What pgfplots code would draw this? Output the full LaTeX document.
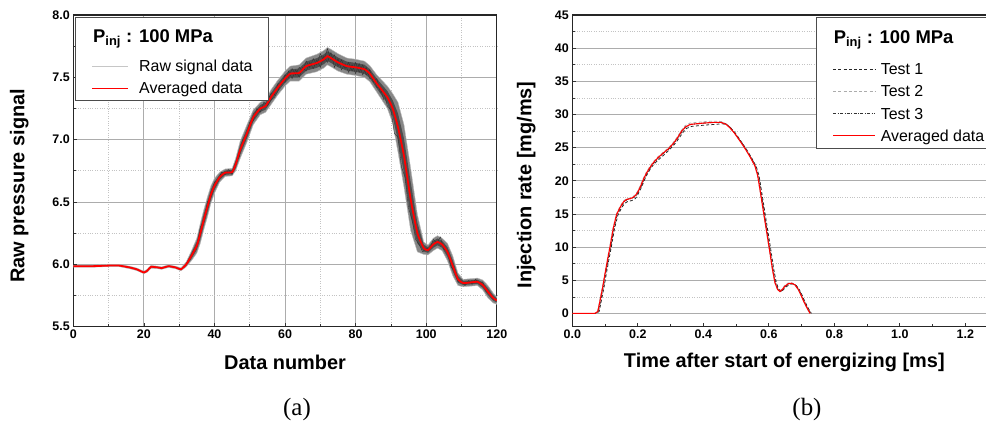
\documentclass[border=0pt]{standalone}
\usepackage{fontspec}
\setmainfont{Liberation Sans}
\newfontfamily\timesf{Liberation Serif}
\usepackage{pgfplots}
\pgfplotsset{compat=1.18}

\definecolor{majgrid}{RGB}{172,172,172}
\definecolor{mingrid}{RGB}{195,195,195}
\definecolor{rawouter}{RGB}{135,135,135}
\definecolor{rawinner}{RGB}{78,78,78}
\definecolor{rawline}{RGB}{50,50,50}
\definecolor{avgred}{RGB}{255,0,0}

\newcommand{\tickfont}{\fontsize{12.5}{13}\selectfont\bfseries}
\newcommand{\labfont}{\fontsize{20}{22}\selectfont\bfseries}
\newcommand{\legfont}{\fontsize{16}{18}\selectfont}
\newcommand{\titfont}{\fontsize{18.5}{20}\selectfont\bfseries}

\tikzset{
  testone/.style={black!85, line width=0.8pt, dash pattern=on 3pt off 2.2pt},
  testtwo/.style={gray!65, line width=0.8pt, dash pattern=on 3pt off 2.2pt},
  testthree/.style={black!80, line width=0.8pt, dash pattern=on 3pt off 1.5pt on 0.8pt off 1.5pt},
}

\begin{document}
\begin{tikzpicture}
\path[use as bounding box] (0bp,0bp) rectangle (986bp,442bp);

% ---------------- (a) ----------------
\begin{axis}[
  scale only axis,
  at={(73.3bp,115.3bp)}, anchor=south west,
  width=423.5bp, height=311.7bp,
  axis line style={black!85, line width=1.1pt},
  tick pos=left, tick align=inside,
  major tick length=4bp, minor tick length=2.5bp,
  every tick/.style={black!80, line width=0.7pt},
  major grid style={majgrid, line width=0.9pt},
  minor grid style={mingrid, dotted, line width=0.7pt},
  /pgf/number format/assume math mode=true,
  xmin=0, xmax=120, ymin=5.5, ymax=8,
  xtick={0,20,...,120}, ytick={5.5,6,6.5,7,7.5,8},
  minor x tick num=1, minor y tick num=1,
  grid=both,
  xticklabel style={font=\tickfont},
  yticklabel style={font=\tickfont},
  yticklabels={5.5,6.0,6.5,7.0,7.5,8.0},
  xlabel={Data number}, ylabel={Raw pressure signal},
  xlabel style={font=\labfont, at={(rel axis cs:0.5,0)}, anchor=center, yshift=-36bp},
  ylabel style={font=\labfont, at={(rel axis cs:0,0.452)}, anchor=center, yshift=54bp},
  legend cell align=left,
  legend image code/.code={\draw[#1] (0bp,0bp) -- (36bp,0bp);},
  legend style={draw=black!70, line width=0.8pt, fill=white,
     font=\legfont, inner xsep=16bp, inner ysep=1bp,
     nodes={inner sep=0pt},
     row sep=0pt, column sep=10bp,
     at={(0,1)}, anchor=north west, xshift=1.7bp, yshift=-2bp},
]
% outer envelope of the raw signals
\addplot[fill=rawouter, draw=gray!50, line width=0.4pt, forget plot] coordinates {
(0,5.993) (5,5.993) (10,5.998) (13,5.998) (16,5.985) (18,5.97) (20,5.945) (21,5.962) (22,5.992) (24,5.985) (25,5.98) (27,5.995) (29,5.985) (30.5,5.972)
(32,6.02) (33.5,6.11) (35,6.21) (36,6.33) (37,6.44) (38,6.54) (39,6.63) (40,6.69) (41.5,6.74) (43,6.765) (45,6.77) (46,6.85) (47.3,6.99) (49.2,7.12)
(51,7.24) (53,7.30) (54.5,7.32) (56,7.40) (58,7.48) (60,7.55) (61.5,7.59) (64,7.60) (66,7.655) (69,7.685) (71,7.715) (72,7.74) (73,7.725) (75,7.69)
(77.5,7.655) (80,7.645) (82.5,7.63) (84,7.595) (86,7.52) (89,7.43) (90.5,7.37) (92,7.30) (93.7,7.12) (95.6,6.77) (97.5,6.40) (99.3,6.18) (100.5,6.155)
(102,6.21) (103.2,6.23) (104.5,6.21) (106,6.17) (107.5,6.07) (109,5.93) (110.5,5.88) (112.5,5.885) (114.5,5.89) (116,5.875) (117.5,5.83) (119,5.77) (120,5.74)
(120,5.68) (119,5.69) (117.5,5.73) (116,5.795) (114.5,5.83) (112.5,5.825) (110.5,5.82) (109,5.83) (107.5,5.91) (106,6.03) (104.5,6.11) (103.2,6.13)
(102,6.11) (100.5,6.075) (99.3,6.08) (97.5,6.10) (95.6,6.27) (93.7,6.62) (92,6.90) (90.5,7.13) (89,7.25) (86,7.38) (84,7.465) (82.5,7.50) (80,7.515)
(77.5,7.525) (75,7.55) (73,7.585) (72,7.60) (71,7.575) (69,7.545) (66,7.525) (64,7.47) (61.5,7.47) (60,7.43) (58,7.36) (56,7.28) (54.5,7.22) (53,7.20)
(51,7.12) (49.2,6.98) (47.3,6.85) (46,6.75) (45,6.71) (43,6.705) (41.5,6.66) (40,6.57) (39,6.49) (38,6.38) (37,6.28) (36,6.17) (35,6.09) (33.5,6.03)
(32,5.98) (30.5,5.948) (29,5.965) (27,5.975) (25,5.96) (24,5.965) (22,5.968) (21,5.938) (20,5.925) (18,5.95) (16,5.965) (13,5.982) (10,5.982) (5,5.977) (0,5.977)
} -- cycle;
% dense core of the raw signals
\addplot[fill=rawinner, draw=none, forget plot] coordinates {
(32,6.011) (33.5,6.092) (35,6.183) (36,6.294) (37,6.404) (38,6.504) (39,6.599) (40,6.663) (41.5,6.722) (43,6.752) (45,6.757) (46,6.828) (47.3,6.959)
(49.2,7.089) (51,7.213) (53,7.278) (54.5,7.298) (56,7.373) (58,7.453) (60,7.523) (61.5,7.563) (64,7.571) (66,7.626) (69,7.654) (71,7.684) (72,7.709)
(73,7.694) (75,7.659) (77.5,7.626) (80,7.616) (82.5,7.601) (84,7.566) (86,7.489) (89,7.39) (90.5,7.316) (92,7.21) (93.7,7.008) (95.6,6.658) (97.5,6.333)
(99.3,6.158) (100.5,6.137) (102,6.188) (103.2,6.208) (104.5,6.188) (106,6.139) (107.5,6.034) (109,5.908) (110.5,5.867) (112.5,5.872) (114.5,5.877)
(116,5.857) (117.5,5.808) (119,5.752) (120,5.727)
(120,5.694) (119,5.708) (117.5,5.753) (116,5.813) (114.5,5.844) (112.5,5.839) (110.5,5.834) (109,5.853) (107.5,5.946) (106,6.062) (104.5,6.133)
(103.2,6.153) (102,6.133) (100.5,6.093) (99.3,6.103) (97.5,6.168) (95.6,6.383) (93.7,6.733) (92,6.99) (90.5,7.184) (89,7.29) (86,7.411) (84,7.494)
(82.5,7.529) (80,7.544) (77.5,7.554) (75,7.581) (73,7.616) (72,7.631) (71,7.606) (69,7.576) (66,7.554) (64,7.499) (61.5,7.497) (60,7.457) (58,7.387)
(56,7.307) (54.5,7.242) (53,7.222) (51,7.147) (49.2,7.011) (47.3,6.881) (46,6.772) (45,6.723) (43,6.718) (41.5,6.678) (40,6.597) (39,6.521) (38,6.416)
(37,6.316) (36,6.206) (35,6.117) (33.5,6.048) (32,5.989)
} -- cycle;
% individual raw traces (texture)
\addplot[rawline, line width=0.4pt, forget plot] coordinates {
(55,7.31) (56,7.37) (57,7.36) (58,7.45) (59,7.44) (60,7.52) (61,7.50) (62,7.57) (63,7.52) (64,7.58) (65,7.55) (66,7.63) (67,7.58) (68,7.65) (69,7.60)
(70,7.69) (71,7.63) (72,7.73) (73,7.64) (74,7.68) (75,7.59) (76,7.64) (77,7.57) (78,7.62) (79,7.55) (80,7.62) (81,7.54) (82,7.60) (83,7.52) (84,7.56)
(85,7.46) (86,7.49) (87,7.38) (88,7.40)};
\addplot[rawline, line width=0.4pt, forget plot] coordinates {
(55,7.27) (56,7.32) (57,7.34) (58,7.39) (59,7.47) (60,7.46) (61,7.55) (62,7.49) (63,7.56) (64,7.50) (65,7.58) (66,7.55) (67,7.62) (68,7.57) (69,7.64)
(70,7.58) (71,7.67) (72,7.62) (73,7.70) (74,7.58) (75,7.65) (76,7.56) (77,7.61) (78,7.54) (79,7.60) (80,7.53) (81,7.61) (82,7.52) (83,7.58) (84,7.49)
(85,7.50) (86,7.42) (87,7.41) (88,7.32)};
\addplot[rawline, line width=0.4pt, forget plot] coordinates {
(88,7.38) (89,7.27) (90,7.24) (91,7.05) (92,7.02) (93,6.78) (94,6.70) (95,6.45) (96,6.36) (97,6.20) (98,6.16) (99,6.10) (100,6.13) (101,6.12)
(102,6.20) (103,6.17) (104,6.22) (105,6.12) (106,6.11) (107,5.98) (108,5.95) (109,5.86) (110,5.86) (111,5.83) (112,5.87) (113,5.84) (114,5.88)
(115,5.85) (116,5.86) (117,5.78) (118,5.77) (119,5.72) (120,5.72)};
\addplot[rawline, line width=0.4pt, forget plot] coordinates {
(33,6.03) (34,6.11) (35,6.14) (36,6.30) (37,6.34) (38,6.50) (39,6.54) (40,6.66) (41,6.67) (42,6.74) (43,6.72) (44,6.76) (45,6.72) (46,6.82)
(47,6.86) (48,7.00) (49,7.02) (50,7.14) (51,7.15) (52,7.25) (53,7.22) (54,7.30) (55,7.28)};
% averaged
\addplot[avgred, line width=1.8pt, smooth, tension=0.3, forget plot] coordinates {
(0,5.985) (5,5.985) (10,5.99) (13,5.99) (16,5.975) (18,5.96) (20,5.935) (21,5.95) (22,5.98) (24,5.975) (25,5.97) (27,5.985) (29,5.975) (30.5,5.96)
(32,6.0) (33.5,6.07) (35,6.15) (36,6.25) (37,6.36) (38,6.46) (39,6.56) (40,6.63) (41.5,6.70) (43,6.735) (45,6.74) (46,6.8) (47.3,6.92) (49.2,7.05)
(51,7.18) (53,7.25) (54.5,7.27) (56,7.34) (58,7.42) (60,7.49) (61.5,7.53) (64,7.535) (66,7.59) (69,7.615) (71,7.645) (72,7.67) (73,7.655) (75,7.62)
(77.5,7.59) (80,7.58) (82.5,7.565) (84,7.53) (86,7.45) (89,7.34) (90.5,7.25) (92,7.10) (93.7,6.87) (95.6,6.52) (97.5,6.25) (99.3,6.13) (100.5,6.115)
(102,6.16) (103.2,6.18) (104.5,6.16) (106,6.10) (107.5,5.99) (109,5.88) (110.5,5.85) (112.5,5.855) (114.5,5.86) (116,5.835) (117.5,5.78) (119,5.73) (120,5.71)};
% legend
\addlegendimage{empty legend}
\addlegendentry[text height=23.7bp, text depth=13.3bp]{\hspace*{-46bp}\titfont P\textsubscript{inj} : 100 MPa}
\addlegendimage{gray!45, line width=0.7pt, solid}
\addlegendentry[text height=16.5bp, text depth=5.5bp]{Raw signal data}
\addlegendimage{avgred, line width=1.8pt, solid}
\addlegendentry[text height=16.5bp, text depth=5.5bp]{Averaged data}
\end{axis}

% ---------------- (b) ----------------
\begin{axis}[
  scale only axis,
  at={(572.3bp,115.3bp)}, anchor=south west,
  width=418bp, height=311.7bp,
  axis line style={black!85, line width=1.1pt},
  tick pos=left, tick align=inside,
  major tick length=4bp, minor tick length=2.5bp,
  every tick/.style={black!80, line width=0.7pt},
  major grid style={majgrid, line width=0.9pt},
  minor grid style={mingrid, dotted, line width=0.7pt},
  /pgf/number format/assume math mode=true,
  xmin=0, xmax=1.2763, ymin=-2, ymax=45,
  xtick={0,0.2,0.4,0.6,0.8,1.0,1.2}, ytick={0,5,...,45},
  xticklabels={0.0,0.2,0.4,0.6,0.8,1.0,1.2},
  minor x tick num=1, minor y tick num=1,
  ymajorgrids, yminorgrids,
  xticklabel style={font=\tickfont},
  yticklabel style={font=\tickfont},
  xlabel={Time after start of energizing [ms]}, ylabel={Injection rate [mg/ms]},
  xlabel style={font=\labfont, at={(rel axis cs:0.5,0)}, anchor=center, yshift=-36bp, xshift=3bp},
  ylabel style={font=\labfont, at={(rel axis cs:0,0.455)}, anchor=center, yshift=46bp},
  legend cell align=left,
  legend image code/.code={\draw[#1] (0bp,0bp) -- (42bp,0bp);},
  legend style={draw=black!70, line width=0.8pt, fill=white,
     font=\legfont, inner xsep=16bp, inner ysep=1bp,
     nodes={inner sep=0pt},
     row sep=0pt, column sep=5bp,
     at={(0,1)}, anchor=north west, xshift=244bp, yshift=-2bp},
]
\addplot[testone, forget plot] coordinates {
(0,0) (0.073,0) (0.082,0.3) (0.089,2.0) (0.097,4.0) (0.104,6.0) (0.112,8.2) (0.119,10.0) (0.129,12.8) (0.139,14.8) (0.15,15.9) (0.16,16.6) (0.17,16.9)
(0.18,17.0) (0.19,17.2) (0.197,17.6) (0.204,18.3) (0.211,19.0) (0.221,20.2) (0.231,21.2) (0.241,22.0) (0.251,22.6) (0.266,23.3) (0.282,24.0) (0.297,24.7)
(0.312,25.5) (0.324,26.3) (0.338,27.3) (0.349,27.9) (0.364,28.2) (0.384,28.3) (0.404,28.4) (0.434,28.5) (0.459,28.6) (0.474,28.4) (0.485,27.9) (0.499,27.1)
(0.516,25.9) (0.531,24.8) (0.547,23.5) (0.562,22.1) (0.57,20.8) (0.577,18.7) (0.584,16.5) (0.592,14.0) (0.6,11.5) (0.608,9.0) (0.615,6.7) (0.623,4.6)
(0.631,3.6) (0.638,3.3) (0.645,3.6) (0.653,4.0) (0.664,4.4) (0.674,4.45) (0.684,4.2) (0.694,3.5) (0.702,2.7) (0.709,1.9) (0.72,0.8) (0.73,0.0)};
\addplot[testtwo, forget plot] coordinates {
(0,0) (0.068,0) (0.077,0.3) (0.084,2.0) (0.092,4.0) (0.099,6.0) (0.107,8.2) (0.114,10.0) (0.124,12.8) (0.134,14.9) (0.145,16.1) (0.155,16.9) (0.165,17.3)
(0.175,17.4) (0.185,17.6) (0.192,17.9) (0.199,18.4) (0.206,19.1) (0.216,20.3) (0.226,21.3) (0.236,22.1) (0.246,22.8) (0.261,23.6) (0.277,24.3) (0.292,24.9)
(0.307,25.7) (0.319,26.5) (0.333,27.6) (0.344,28.3) (0.359,28.7) (0.379,28.8) (0.399,28.9) (0.429,29.0) (0.454,28.95) (0.469,28.6) (0.48,28.1) (0.494,27.3)
(0.511,26.1) (0.526,25.0) (0.542,23.7) (0.557,22.3) (0.565,20.9) (0.572,18.8) (0.579,16.6) (0.587,14.1) (0.595,11.6) (0.603,9.1) (0.61,6.8) (0.618,4.7)
(0.626,3.7) (0.633,3.4) (0.64,3.7) (0.648,4.2) (0.659,4.6) (0.669,4.6) (0.679,4.35) (0.689,3.65) (0.697,2.85) (0.704,2.05) (0.715,0.95) (0.725,0.0)};
\addplot[testthree, forget plot] coordinates {
(0,0) (0.071,0) (0.080,0.3) (0.087,2.0) (0.095,4.0) (0.102,6.0) (0.110,8.2) (0.117,10.0) (0.127,12.8) (0.137,14.9) (0.148,16.0) (0.158,16.8) (0.168,17.2)
(0.178,17.3) (0.188,17.5) (0.195,17.8) (0.202,18.3) (0.209,19.0) (0.219,20.2) (0.229,21.2) (0.239,22.0) (0.249,22.7) (0.264,23.5) (0.280,24.2) (0.295,24.8)
(0.310,25.6) (0.322,26.4) (0.336,27.5) (0.347,28.1) (0.362,28.5) (0.382,28.6) (0.402,28.7) (0.432,28.8) (0.457,28.8) (0.472,28.5) (0.483,28.0) (0.497,27.2)
(0.514,26.0) (0.529,24.9) (0.545,23.6) (0.560,22.2) (0.568,20.8) (0.575,18.7) (0.582,16.5) (0.590,14.0) (0.598,11.5) (0.606,9.0) (0.613,6.7) (0.621,4.6)
(0.629,3.6) (0.636,3.3) (0.643,3.6) (0.651,4.1) (0.662,4.5) (0.672,4.55) (0.682,4.3) (0.692,3.6) (0.700,2.8) (0.707,2.0) (0.718,0.9) (0.728,0.0)};
\addlegendimage{empty legend}
\addlegendentry[text height=24.7bp, text depth=14.6bp]{\hspace*{-47bp}\titfont P\textsubscript{inj} : 100 MPa}
\addlegendimage{testone, line width=0.7pt}
\addlegendentry[text height=16.7bp, text depth=5.6bp]{Test 1}
\addlegendimage{testtwo, line width=0.7pt}
\addlegendentry[text height=16.7bp, text depth=5.6bp]{Test 2}
\addlegendimage{testthree, line width=0.7pt}
\addlegendentry[text height=16.7bp, text depth=5.6bp]{Test 3}
% averaged data (its own legend entry, drawn last)
\addplot[avgred, line width=1.1pt, solid] coordinates {
(0,0) (0.069,0) (0.078,0.3) (0.085,2.0) (0.093,4.0) (0.1,6.0) (0.108,8.2) (0.115,10.0) (0.125,12.8) (0.135,14.9) (0.146,16.0) (0.156,16.8) (0.166,17.2)
(0.176,17.3) (0.186,17.5) (0.193,17.8) (0.2,18.3) (0.207,19.0) (0.217,20.2) (0.227,21.2) (0.237,22.0) (0.247,22.7) (0.262,23.5) (0.278,24.2) (0.293,24.8)
(0.308,25.6) (0.32,26.4) (0.334,27.5) (0.345,28.1) (0.36,28.5) (0.38,28.6) (0.4,28.7) (0.43,28.8) (0.455,28.8) (0.47,28.5) (0.481,28.0) (0.495,27.2)
(0.512,26.0) (0.527,24.9) (0.543,23.6) (0.558,22.2) (0.566,20.8) (0.573,18.7) (0.58,16.5) (0.588,14.0) (0.596,11.5) (0.604,9.0) (0.611,6.7) (0.619,4.6)
(0.627,3.6) (0.634,3.3) (0.641,3.6) (0.649,4.1) (0.66,4.5) (0.67,4.55) (0.68,4.3) (0.69,3.6) (0.698,2.8) (0.705,2.0) (0.716,0.9) (0.726,0.0)};
\addlegendentry[text height=16.7bp, text depth=5.6bp]{Averaged data}
\end{axis}

\node[font=\timesf\fontsize{25}{26}\selectfont] at (297bp,32bp) {(a)};
\node[font=\timesf\fontsize{25}{26}\selectfont] at (807bp,32bp) {(b)};
\end{tikzpicture}
\end{document}
